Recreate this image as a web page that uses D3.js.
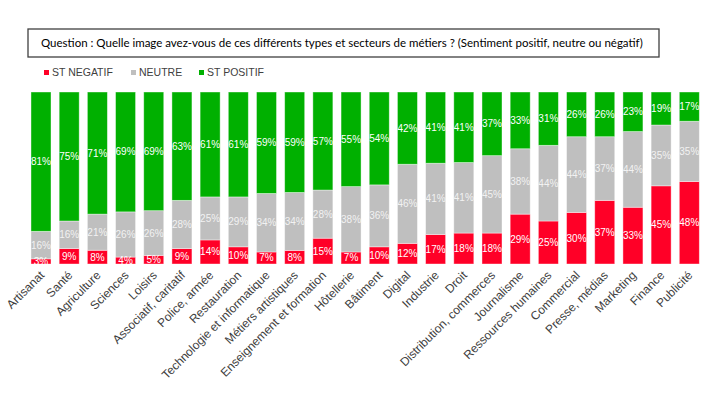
<!DOCTYPE html>
<html>
<head>
<meta charset="utf-8">
<script src="https://cdn.jsdelivr.net/npm/d3@7"></script>
<style>
  html, body { margin: 0; padding: 0; background: #fff; }
  svg { display: block; }
</style>
</head>
<body>
<svg id="chart" width="728" height="410"></svg>
<script>
const categories = ["Artisanat", "Santé", "Agriculture", "Sciences", "Loisirs", "Associatif, caritatif", "Police, armée", "Restauration", "Technologie et informatique", "Métiers artistiques", "Enseignement et formation", "Hôtellerie", "Bâtiment", "Digital", "Industrie", "Droit", "Distribution, commerces", "Journalisme", "Ressources humaines", "Commercial", "Presse, médias", "Marketing", "Finance", "Publicité"];
const negatif = [3, 9, 8, 4, 5, 9, 14, 10, 7, 8, 15, 7, 10, 12, 17, 18, 18, 29, 25, 30, 37, 33, 45, 48];
const neutre  = [16, 16, 21, 26, 26, 28, 25, 29, 34, 34, 28, 38, 36, 46, 41, 41, 45, 38, 44, 44, 37, 44, 35, 35];
const positif = [81, 75, 71, 69, 69, 63, 61, 61, 59, 59, 57, 55, 54, 42, 41, 41, 37, 33, 31, 26, 26, 23, 19, 17];
const seriesNames = ["ST NEGATIF", "NEUTRE", "ST POSITIF"];
const seriesKeys = ["neg", "neu", "pos"];
const colors = ["#FF0027", "#BFBFBF", "#00B000"];
const title = "Question : Quelle image avez-vous de ces différents types et secteurs de métiers ? (Sentiment positif, neutre ou négatif)";

const rows = categories.map((c, i) => ({cat: c, neg: negatif[i], neu: neutre[i], pos: positif[i]}));
const stacked = d3.stack().keys(seriesKeys).offset(d3.stackOffsetExpand)(rows);

const svg = d3.select("#chart");

const x = d3.scaleBand().domain(categories).range([26.9, 703.4]).paddingInner(0.29).paddingOuter(0.145);
const y = d3.scaleLinear().domain([0, 1]).range([264, 92]);

// Title box
svg.append("rect").attr("x", 28).attr("y", 29).attr("width", 631).attr("height", 28)
  .attr("fill", "none").attr("stroke", "#404040").attr("stroke-width", 1.3);
svg.append("text").attr("x", 41).attr("y", 47)
  .attr("font-family", "Lato, 'Open Sans', sans-serif").attr("font-size", 11.5)
  .attr("fill", "#000").text(title);

// Legend
const legendX = [44, 131, 199];
const lg = svg.append("g");
seriesNames.forEach((n, i) => {
  lg.append("rect").attr("x", legendX[i]).attr("y", 70).attr("width", 5).attr("height", 5).attr("fill", colors[i]);
  lg.append("text").attr("x", legendX[i] + 8).attr("y", 76)
    .attr("font-family", "'Liberation Sans', Arial, sans-serif").attr("font-size", 10.5)
    .attr("fill", "#404040").text(n);
});

// Bars
const layers = svg.append("g").selectAll("g").data(stacked).join("g").attr("fill", (d, i) => colors[i]);
layers.selectAll("rect").data(d => d).join("rect")
  .attr("x", d => x(d.data.cat))
  .attr("y", d => y(d[1]))
  .attr("width", x.bandwidth())
  .attr("height", d => y(d[0]) - y(d[1]))
  .attr("stroke", "#ffffff").attr("stroke-opacity", 0.5).attr("stroke-width", 0.8);

// Value labels
const labels = svg.append("g");
stacked.forEach((layer, li) => {
  labels.selectAll(null).data(layer).join("text")
    .attr("x", d => x(d.data.cat) + x.bandwidth() / 2)
    .attr("y", d => (y(d[0]) + y(d[1])) / 2)
    .attr("dy", "0.35em")
    .attr("text-anchor", "middle")
    .attr("font-family", "'Liberation Sans', Arial, sans-serif").attr("font-size", 10)
    .attr("fill", li === 1 ? "#f2f2f2" : "#ffffff")
    .text(d => d.data[layer.key] + "%");
});

// X axis labels
const axis = svg.append("g").attr("transform", "translate(0,264)")
  .call(d3.axisBottom(x).tickSize(0).tickPadding(0));
axis.select(".domain").remove();
axis.selectAll("text")
  .attr("font-family", "'Liberation Sans', Arial, sans-serif").attr("font-size", 12)
  .attr("fill", "#404040")
  .attr("text-anchor", "end")
  .attr("dy", null).attr("y", 0)
  .attr("transform", "translate(4,12) rotate(-45)");
</script>
</body>
</html>
